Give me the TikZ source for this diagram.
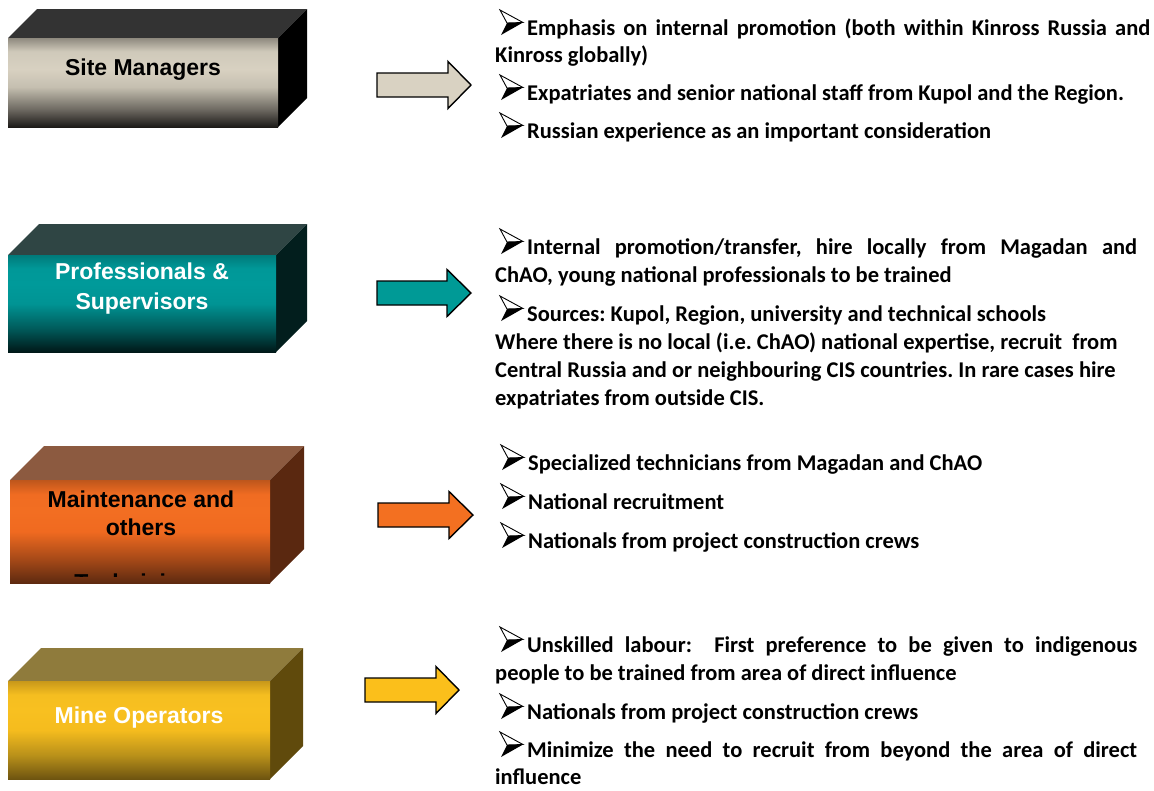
\documentclass[tikz,border=0pt]{standalone}
\usepackage{fontspec}
\setmainfont{Carlito}
\newfontfamily\lab{Liberation Sans}
\frenchspacing
% colours
\definecolor{smA}{HTML}{1C1A18}\definecolor{smB}{HTML}{6E6A62}\definecolor{smC}{HTML}{C5BFB0}
\definecolor{smD}{HTML}{D8D1C1}\definecolor{smE}{HTML}{CFC9BA}\definecolor{smF}{HTML}{8E897E}
\definecolor{tlA}{HTML}{001818}\definecolor{tlB}{HTML}{005A5A}\definecolor{tlC}{HTML}{009494}
\definecolor{tlD}{HTML}{009A9A}\definecolor{tlE}{HTML}{009898}\definecolor{tlF}{HTML}{007A7A}
\definecolor{orA}{HTML}{5E2A10}\definecolor{orB}{HTML}{A84A18}\definecolor{orC}{HTML}{F06A20}
\definecolor{orD}{HTML}{F26E22}\definecolor{orE}{HTML}{F06C22}\definecolor{orF}{HTML}{BE561C}
\definecolor{gdA}{HTML}{6E5410}\definecolor{gdB}{HTML}{B8901A}\definecolor{gdC}{HTML}{F5BC1E}
\definecolor{gdD}{HTML}{F8C020}\definecolor{gdE}{HTML}{F5BE20}\definecolor{gdF}{HTML}{C8981A}
\definecolor{smTop}{HTML}{333333}\definecolor{smSide}{HTML}{000000}
\definecolor{tlTop}{HTML}{2F4544}\definecolor{tlSide}{HTML}{021E1D}
\definecolor{orTop}{HTML}{8C5A40}\definecolor{orSide}{HTML}{5A2810}
\definecolor{gdTop}{HTML}{8F7B3C}\definecolor{gdSide}{HTML}{604A0C}
\definecolor{arA}{HTML}{D9D2C2}\definecolor{arB}{HTML}{009A96}
\definecolor{arC}{HTML}{F37021}\definecolor{arD}{HTML}{FBBF1B}
% shadings (stops 25bp = bottom of face, 75bp = top of face)
\pgfdeclareverticalshading{smshade}{100bp}{color(0bp)=(smA); color(25bp)=(smA); color(35bp)=(smB); color(47.5bp)=(smC); color(57.5bp)=(smD); color(67.5bp)=(smE); color(75bp)=(smF); color(100bp)=(smF)}
\pgfdeclareverticalshading{tlshade}{100bp}{color(0bp)=(tlA); color(25bp)=(tlA); color(37bp)=(tlB); color(50bp)=(tlC); color(60bp)=(tlD); color(68bp)=(tlE); color(75bp)=(tlF); color(100bp)=(tlF)}
\pgfdeclareverticalshading{orshade}{100bp}{color(0bp)=(orA); color(25bp)=(orA); color(37bp)=(orB); color(50bp)=(orC); color(60bp)=(orD); color(68bp)=(orE); color(75bp)=(orF); color(100bp)=(orF)}
\pgfdeclareverticalshading{gdshade}{100bp}{color(0bp)=(gdA); color(25bp)=(gdA); color(37bp)=(gdB); color(50bp)=(gdC); color(60bp)=(gdD); color(68bp)=(gdE); color(75bp)=(gdF); color(100bp)=(gdF)}
% block: #1 x1, #2 y1, #3 x2, #4 y2, #5 depth, #6 shading, #7 top, #8 side
\newcommand\blockbox[8]{%
  \fill[#7] (#1,#2) -- (#1+#5,#2-#5) -- (#3+#5,#2-#5) -- (#3,#2) -- cycle;
  \fill[#8] (#3,#2) -- (#3+#5,#2-#5) -- (#3+#5,#4-#5) -- (#3,#4) -- cycle;
  \shade[shading=#6] (#1,#2) rectangle (#3,#4);}
% arrow: #1 left x, #2 head x, #3 tip x, #4 centre y, #5 colour
\newcommand\blockarrow[5]{%
  \filldraw[barrow,fill=#5] (#1,#4-12) -- (#2,#4-12) -- (#2,#4-23.5) -- (#3,#4)
    -- (#2,#4+23.5) -- (#2,#4+12) -- (#1,#4+12) -- cycle;}
\tikzset{
  barrow/.style={draw=black,line width=1.4pt,line join=miter},
  lab/.style={font=\lab\bfseries\fontsize{23}{30}\selectfont,align=center,inner sep=0pt},
  bodytxt/.style={font=\bfseries\fontsize{22.5}{28}\selectfont,inner sep=0pt,anchor=base west},
  bul/.pic={\filldraw[fill=white,draw=black,line width=0.9pt,line join=miter]
      (0,-25) -- (23,-12.5) -- (7,-12) -- cycle;
    \fill[black] (7,-12) -- (23,-12.5) -- (1,0) -- cycle;}
}
\begin{document}
\begin{tikzpicture}[x=1pt,y=-1pt]
\useasboundingbox (0,0) rectangle (1154,790);
\fill[white] (0,0) rectangle (1154,790);
% boxes
\blockbox{8}{38}{278}{127}{29}{smshade}{smTop}{smSide}
\blockbox{8}{255}{276}{352}{31}{tlshade}{tlTop}{tlSide}
\blockbox{10}{480}{270}{583}{34}{orshade}{orTop}{orSide}
\blockbox{8}{681}{270}{779}{33}{gdshade}{gdTop}{gdSide}
\node[lab,text=black] (l1) at (143,70) {Site Managers};
\node[lab,text=white] (l2) at (142,289) {Professionals \&\\Supervisors};
\node[lab,text=black,font=\lab\bfseries\fontsize{23}{28}\selectfont] (l3) at (141,513) {Maintenance and\\others};
\begin{scope}
  \clip (10,480) rectangle (270,576);
  \node[lab,text=black,anchor=base] (l3b) at (140,590) {Technicians};
\end{scope}
\node[lab,text=white] (l4) at (139,718) {Mine Operators};
% arrows
\blockarrow{377}{448}{471}{85}{arA}
\blockarrow{377}{447}{471}{293}{arB}
\blockarrow{378}{449}{473}{515}{arC}
\blockarrow{365}{436}{459}{690}{arD}
% block 1
\pic at (500,35) {bul};
\node[bodytxt] (a1) at (527,35) {\makebox[623pt][s]{Emphasis on internal promotion (both within Kinross Russia and}};
\node[bodytxt] (a2) at (495,62) {Kinross globally)};
\pic at (500,100) {bul};
\node[bodytxt] (a3) at (527,100) {Expatriates and senior national staff from Kupol and the Region.};
\pic at (500,138) {bul};
\node[bodytxt] (a4) at (527,138) {Russian experience as an important consideration};
% block 2
\pic at (500,254) {bul};
\node[bodytxt] (b1) at (527,254) {\makebox[610pt][s]{Internal promotion/transfer, hire locally from Magadan and}};
\node[bodytxt] (b2) at (495,282) {ChAO, young national professionals to be trained};
\pic at (500,321) {bul};
\node[bodytxt] (b3) at (527,321) {Sources: Kupol, Region, university and technical schools};
\node[bodytxt] (b4) at (495,349) {Where there is no local (i.e. ChAO) national expertise, recruit\ \ from};
\node[bodytxt] (b5) at (495,377) {Central Russia and or neighbouring CIS countries. In rare cases hire};
\node[bodytxt] (b6) at (495,405) {expatriates from outside CIS.};
% block 3
\pic at (501,470) {bul};
\node[bodytxt] (c1) at (528,470) {Specialized technicians from Magadan and ChAO};
\pic at (501,509) {bul};
\node[bodytxt] (c2) at (528,509) {National recruitment};
\pic at (501,548) {bul};
\node[bodytxt] (c3) at (528,548) {Nationals from project construction crews};
% block 4
\pic at (500,652) {bul};
\node[bodytxt] (d1) at (527,652) {\makebox[610pt][s]{Unskilled labour:\ \ First preference to be given to indigenous}};
\node[bodytxt] (d2) at (495,680) {people to be trained from area of direct influence};
\pic at (500,719) {bul};
\node[bodytxt] (d3) at (527,719) {Nationals from project construction crews};
\pic at (500,757) {bul};
\node[bodytxt] (d4) at (527,757) {\makebox[610pt][s]{Minimize the need to recruit from beyond the area of direct}};
\node[bodytxt] (d5) at (495,784) {influence};
\end{tikzpicture}
\end{document}
